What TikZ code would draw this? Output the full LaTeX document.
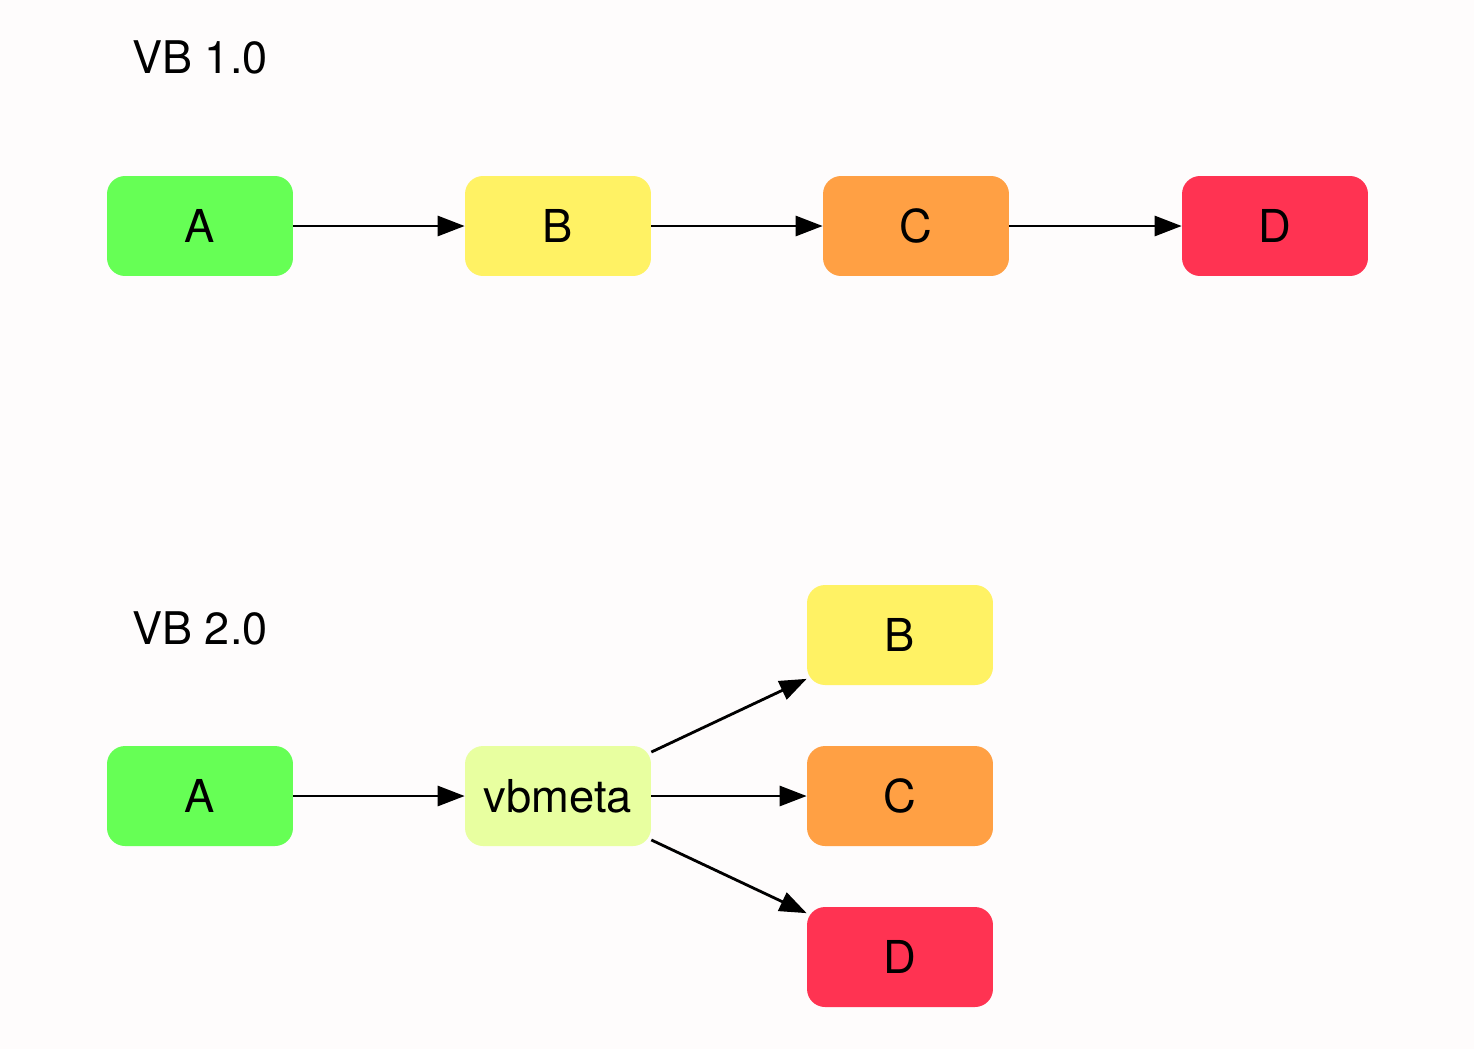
\documentclass[tikz,border=0pt]{standalone}
\usepackage{fontspec}
\setmainfont{TeX Gyre Heros}
\usetikzlibrary{arrows.meta}
\definecolor{bgcol}{RGB}{254,252,252}
\definecolor{imgA}{RGB}{102,255,85}
\definecolor{imgB}{RGB}{255,242,100}
\definecolor{imgC}{RGB}{255,160,68}
\definecolor{imgD}{RGB}{255,51,82}
\definecolor{imgMeta}{RGB}{232,255,160}
\begin{document}
\begin{tikzpicture}[x=0.02cm, y=0.02cm]
\tikzset{part/.style={rectangle, rounded corners=0.36cm, minimum width=3.72cm, minimum height=2cm, inner sep=0pt, font=\fontsize{25.8}{30}\selectfont}}
\tikzset{title/.style={inner sep=0pt, font=\fontsize{25.6}{30}\selectfont}}
\tikzset{link/.style={line width=1.6pt, -{Triangle[length=0.54cm, width=0.4cm]}}}
\fill [bgcol] (0,0) rectangle (1474,-1049);
\useasboundingbox (0,0) rectangle (1474,-1049);
% VB 1.0
\node [title] (t1) at (200,-57) {VB 1.0};
\node [part, fill=imgA] (a1) at (200,-226) {A};
\node [part, fill=imgB] (b1) at (558,-226) {B};
\node [part, fill=imgC] (c1) at (916,-226) {C};
\node [part, fill=imgD] (d1) at (1275,-226) {D};
\draw [link] (a1) -- (b1);
\draw [link] (b1) -- (c1);
\draw [link] (c1) -- (d1);
% VB 2.0
\node [title] (t2) at (200,-628) {VB 2.0};
\node [part, fill=imgA] (a2) at (200,-796) {A};
\node [part, fill=imgMeta] (meta) at (558,-796) {vbmeta};
\node [part, fill=imgB] (b2) at (900,-635) {B};
\node [part, fill=imgC] (c2) at (900,-796) {C};
\node [part, fill=imgD] (d2) at (900,-957) {D};
\draw [link] (a2) -- (meta);
\draw [link] (meta) -- (b2);
\draw [link] (meta) -- (c2);
\draw [link] (meta) -- (d2);
\end{tikzpicture}
\end{document}
